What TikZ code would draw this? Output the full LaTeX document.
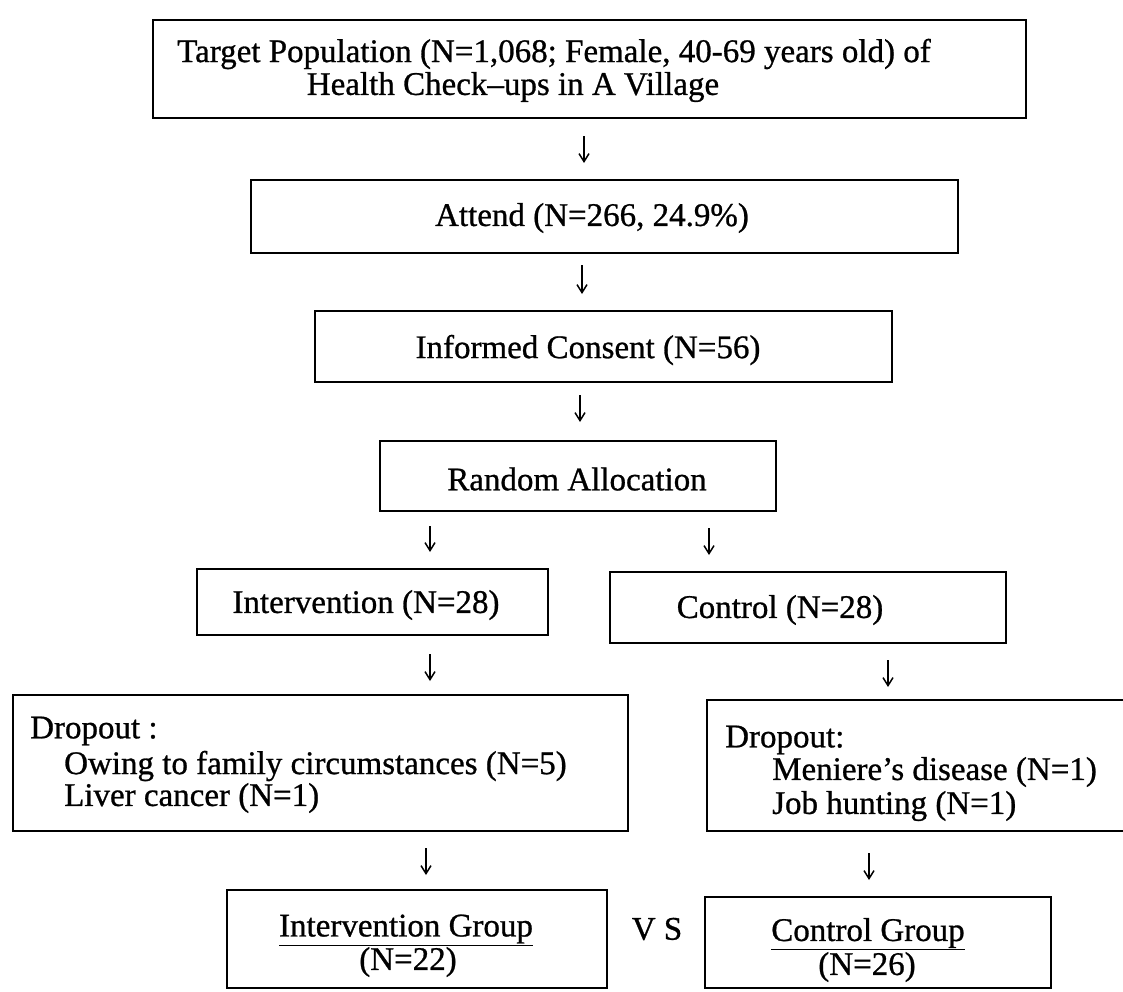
\documentclass[tikz,border=0pt]{standalone}
\usepackage{fontspec}
\setmainfont{Liberation Serif}[FakeBold=0.8]
\usetikzlibrary{arrows.meta}
\begin{document}
\begin{tikzpicture}[x=1pt,y=-1pt,
  box/.style={draw, line width=2.4pt, inner sep=0pt},
  txt/.style={inner sep=0pt, font=\fontsize{33}{33}\selectfont},
  ltxt/.style={txt, anchor=west},
  arr/.style={line width=1.5pt, -{Straight Barb[length=8pt,width=10pt,line width=1.5pt]}}]
\useasboundingbox (0,0) rectangle (1123,991);
% boxes
\node[box, minimum width=873pt, minimum height=98pt] (top) at (589.5,69) {};
\node[box, minimum width=707pt, minimum height=73pt] (attend) at (604.5,216.5) {};
\node[box, minimum width=577pt, minimum height=71pt] (consent) at (603.5,346.5) {};
\node[box, minimum width=396pt, minimum height=70pt] (random) at (578,476) {};
\node[box, minimum width=351pt, minimum height=66pt] (interv) at (372.5,602) {};
\node[box, minimum width=396pt, minimum height=71pt] (control) at (808,607.5) {};
\node[box, minimum width=615pt, minimum height=136pt] (dropL) at (320.5,763) {};
\node[box, minimum width=424pt, minimum height=131pt] (dropR) at (919,765.5) {};
\node[box, minimum width=380pt, minimum height=98pt] (igroup) at (417,939) {};
\node[box, minimum width=346pt, minimum height=91pt] (cgroup) at (878,942.5) {};
% texts
\node[txt] (topT1) at (554,54) {Target Population (N=1,068; Female, 40-69 years old) of};
\node[txt] (topT2) at (513,87) {Health Check--ups in A Village};
\node[txt] (attendT) at (592,218) {Attend (N=266, 24.9\%)};
\node[txt] (consentT) at (588,350) {Informed Consent (N=56)};
\node[txt] (randomT) at (577,479) {Random Allocation};
\node[txt] (intervT) at (366,605) {Intervention (N=28)};
\node[txt] (controlT) at (780,610) {Control (N=28)};
\node[ltxt] (dL1) at (30,731) {Dropout :};
\node[ltxt] (dL2) at (64,766) {Owing to family circumstances (N=5)};
\node[ltxt] (dL3) at (64,798) {Liver cancer (N=1)};
\node[ltxt] (dR1) at (725,740) {Dropout:};
\node[ltxt] (dR2) at (772,772) {Meniere's disease (N=1)};
\node[ltxt] (dR3) at (772,806) {Job hunting (N=1)};
\node[txt] (igT1) at (406,930) {\underline{Intervention Group}};
\node[txt] (igT2) at (408,962) {(N=22)};
\node[txt] (vs) at (657,929) {V S};
\node[txt] (cgT1) at (868,934) {\underline{Control Group}};
\node[txt] (cgT2) at (867,967) {(N=26)};
% arrow coordinates
\coordinate (a1s) at (584,136); \coordinate (a1e) at (584,163);
\coordinate (a2s) at (582,265); \coordinate (a2e) at (582,294);
\coordinate (a3s) at (580,395); \coordinate (a3e) at (580,422);
\coordinate (a4s) at (430,526); \coordinate (a4e) at (430,552);
\coordinate (a5s) at (709,528); \coordinate (a5e) at (709,555);
\coordinate (a6s) at (430,654); \coordinate (a6e) at (430,681);
\coordinate (a7s) at (888,660); \coordinate (a7e) at (888,687);
\coordinate (a8s) at (426,848); \coordinate (a8e) at (426,875);
\coordinate (a9s) at (869,853); \coordinate (a9e) at (869,880);
\foreach \i in {1,...,9} {\draw[arr] (a\i s) -- (a\i e);}
\end{tikzpicture}
\end{document}
